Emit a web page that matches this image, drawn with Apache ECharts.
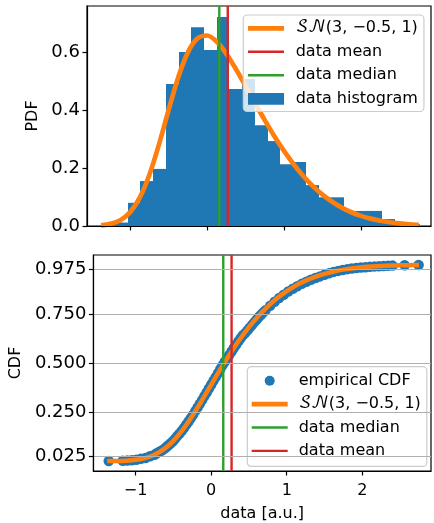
<!DOCTYPE html>
<html><head><meta charset="utf-8">
<script src="https://cdn.jsdelivr.net/npm/echarts@6/dist/echarts.min.js"></script>
<style>html,body{margin:0;padding:0;background:#fff}#c{width:434px;height:523px}</style>
</head><body><div id="c"></div><script>
// ---- data ----
const binEdges = [-1.360, -1.195, -1.030, -0.864, -0.699, -0.534, -0.369, -0.203, -0.038, 0.127, 0.292, 0.457, 0.623, 0.788, 0.953, 1.118, 1.283, 1.449, 1.614, 1.779, 1.944, 2.109, 2.275, 2.440, 2.605, 2.770];
const histDensity = [0.006, 0.012, 0.080, 0.155, 0.197, 0.490, 0.600, 0.686, 0.607, 0.721, 0.473, 0.507, 0.348, 0.293, 0.213, 0.221, 0.141, 0.099, 0.099, 0.052, 0.052, 0.052, 0.024, 0.006, 0.006];

const pdfX = [-1.375, -1.25, -1.125, -1.0, -0.875, -0.75, -0.625, -0.5, -0.375, -0.25, -0.125, 0, 0.125, 0.25, 0.375, 0.5, 0.625, 0.75, 0.875, 1.0, 1.125, 1.25, 1.375, 1.5, 1.625, 1.75, 1.875, 2.0, 2.125, 2.25, 2.375, 2.5, 2.625, 2.75];
const pdfY = [0.0024, 0.0074, 0.0200, 0.0470, 0.0969, 0.1753, 0.2801, 0.3989, 0.5115, 0.5981, 0.6467, 0.6572, 0.6364, 0.5949, 0.5417, 0.4833, 0.4236, 0.3652, 0.3100, 0.2590, 0.2131, 0.1726, 0.1375, 0.1080, 0.0834, 0.0635, 0.0475, 0.0350, 0.0254, 0.0182, 0.0128, 0.0089, 0.0060, 0.0041];

const cdfX = pdfX;
const cdfY = [0.0003, 0.0009, 0.0026, 0.0068, 0.0158, 0.0328, 0.0613, 0.1037, 0.1606, 0.2300, 0.3078, 0.3893, 0.4701, 0.5471, 0.6181, 0.6822, 0.7389, 0.7882, 0.8304, 0.8659, 0.8954, 0.9195, 0.9389, 0.9543, 0.9662, 0.9754, 0.9823, 0.9875, 0.9913, 0.9940, 0.9960, 0.9973, 0.9982, 0.9989];

const ecdfX = [-1.355, -1.17, -1.11, -1.05, -0.99, -0.93, -0.87, -0.81, -0.75, -0.72, -0.69, -0.66, -0.63, -0.60, -0.57, -0.54, -0.51, -0.48, -0.45, -0.42, -0.39, -0.36, -0.33, -0.30, -0.27, -0.24, -0.21, -0.18, -0.15, -0.12, -0.09, -0.06, -0.03, 0.00, 0.03, 0.06, 0.09, 0.12, 0.15, 0.18, 0.21, 0.24, 0.27, 0.30, 0.33, 0.36, 0.39, 0.42, 0.45, 0.48, 0.51, 0.54, 0.57, 0.60, 0.63, 0.66, 0.69, 0.72, 0.78, 0.84, 0.90, 0.96, 1.02, 1.08, 1.14, 1.20, 1.26, 1.32, 1.38, 1.44, 1.50, 1.56, 1.62, 1.68, 1.74, 1.80, 1.86, 1.92, 1.98, 2.04, 2.10, 2.16, 2.22, 2.28, 2.34, 2.40, 2.56, 2.745];
const ecdfY = [0.001, 0.002, 0.003, 0.005, 0.0075, 0.012, 0.0165, 0.025, 0.033, 0.040, 0.047, 0.053, 0.060, 0.070, 0.080, 0.090, 0.100, 0.113, 0.127, 0.140, 0.154, 0.169, 0.186, 0.202, 0.219, 0.236, 0.255, 0.274, 0.292, 0.311, 0.331, 0.350, 0.370, 0.389, 0.409, 0.428, 0.448, 0.468, 0.488, 0.506, 0.524, 0.541, 0.559, 0.576, 0.593, 0.610, 0.626, 0.641, 0.652, 0.666, 0.680, 0.693, 0.707, 0.720, 0.734, 0.746, 0.758, 0.769, 0.791, 0.812, 0.831, 0.848, 0.864, 0.878, 0.891, 0.903, 0.914, 0.924, 0.933, 0.941, 0.949, 0.957, 0.964, 0.969, 0.974, 0.978, 0.981, 0.984, 0.986, 0.988, 0.990, 0.992, 0.993, 0.994, 0.995, 0.996, 0.998, 0.999];

const dataMean = 0.27;
const dataMedian = 0.16;

const xTicks = [-1, 0, 1, 2];
const pdfTicks = [0, 0.2, 0.4, 0.6];
const cdfTicks = [0.025, 0.25, 0.5, 0.75, 0.975];

const snName = '\u{1D4AE}\u{1D4A9}(3, \u22120.5, 1)';

// ---- layout / style ----
const X_MIN = -1.558, X_MAX = 2.909;
const PDF_MAX = 0.759;
const CDF_MIN = -0.05, CDF_MAX = 1.05;
const FONT = '"DejaVu Sans", "DejaVu Math TeX Gyre", sans-serif';
const FS = 16;
const YFS = 18;
const BLUE = '#1f77b4', ORANGE = '#ff7f0e', GREEN = '#2ca02c', RED = '#d62728';
const zip = (a, b) => a.map((v, i) => [v, b[i]]);
const minusFmt = v => (v < 0 ? '\u2212' + Math.abs(v) : String(v));

const axisLineStyle = { show: true, onZero: false, lineStyle: { color: '#000', width: 1.2 } };
const tickStyle = vals => ({ show: true, customValues: vals, length: 4.5, lineStyle: { color: '#000', width: 1.2 } });
const xLabelStyle = { color: '#000', fontSize: FS, fontFamily: FONT, margin: 12 };
const yLabelStyle = { color: '#000', fontSize: YFS, fontFamily: FONT, margin: 7 };
const nameStyle = { color: '#000', fontSize: FS, fontFamily: FONT };

const chart = echarts.init(document.getElementById('c'), null, { renderer: 'canvas' });
chart.setOption({
  animation: false,
  backgroundColor: '#fff',
  grid: [
    { left: 87, width: 344, top: 6, height: 220, show: true, borderColor: '#000', borderWidth: 1.2, backgroundColor: 'transparent' },
    { left: 87, width: 344, top: 255, height: 220, show: true, borderColor: '#000', borderWidth: 1.2, backgroundColor: 'transparent' }
  ],
  xAxis: [
    { gridIndex: 0, type: 'value', min: X_MIN, max: X_MAX, z: 5,
      axisLine: axisLineStyle, axisTick: tickStyle(xTicks),
      axisLabel: Object.assign({ show: false, customValues: xTicks }, xLabelStyle),
      splitLine: { show: false } },
    { gridIndex: 1, type: 'value', min: X_MIN, max: X_MAX, z: 5,
      axisLine: axisLineStyle, axisTick: tickStyle(xTicks),
      axisLabel: Object.assign({ customValues: xTicks, formatter: minusFmt }, xLabelStyle),
      splitLine: { show: false },
      name: 'data [a.u.]', nameLocation: 'middle', nameGap: 35, nameTextStyle: nameStyle }
  ],
  yAxis: [
    { gridIndex: 0, type: 'value', min: 0, max: PDF_MAX, z: 5,
      axisLine: axisLineStyle, axisTick: tickStyle(pdfTicks),
      axisLabel: Object.assign({ customValues: pdfTicks, formatter: v => v.toFixed(1) }, yLabelStyle),
      splitLine: { show: false },
      name: 'PDF', nameLocation: 'middle', nameGap: 42, nameRotate: 90, nameTextStyle: nameStyle },
    { gridIndex: 1, type: 'value', min: CDF_MIN, max: CDF_MAX, z: 5,
      axisLine: axisLineStyle, axisTick: tickStyle(cdfTicks),
      axisLabel: Object.assign({ customValues: cdfTicks, formatter: v => v.toFixed(3) }, yLabelStyle),
      splitLine: { show: true, lineStyle: { color: '#b0b0b0', width: 1.2 } },
      name: 'CDF', nameLocation: 'middle', nameGap: 64, nameRotate: 90, nameTextStyle: nameStyle }
  ],
  legend: [
    { orient: 'vertical', left: 243.3, top: 15, selectedMode: false,
      itemWidth: 36, itemHeight: 11.7, itemGap: 5.5,
      padding: [4.3, 6, 3.7, 4.7],
      backgroundColor: 'rgba(255,255,255,0.8)', borderColor: '#cccccc', borderWidth: 1.2, borderRadius: 4,
      textStyle: { color: '#000', fontSize: FS, fontFamily: FONT, lineHeight: 18, padding: [0, 0, 0, 6.7] },
      data: [
        { name: snName, icon: 'path://M0,0h36v4.7h-36z' },
        { name: 'data mean', icon: 'path://M0,0h36v2.4h-36z' },
        { name: 'data median', icon: 'path://M0,0h36v2.4h-36z' },
        { name: 'data histogram', icon: 'path://M0,0h36v11.7h-36z' }
      ] },
    { orient: 'vertical', left: 247.3, top: 366.7, selectedMode: false,
      itemWidth: 36, itemHeight: 10, itemGap: 5.4,
      padding: [5, 6, 6.5, 4.4],
      backgroundColor: 'rgba(255,255,255,0.8)', borderColor: '#cccccc', borderWidth: 1.2, borderRadius: 4,
      textStyle: { color: '#000', fontSize: FS, fontFamily: FONT, lineHeight: 18, padding: [0, 0, 0, 6] },
      data: [
        { name: 'empirical CDF', icon: 'circle' },
        { name: snName, icon: 'path://M0,0h36v4.7h-36z' },
        { name: 'data median', icon: 'path://M0,0h36v2.4h-36z' },
        { name: 'data mean', icon: 'path://M0,0h36v2.4h-36z' }
      ] }
  ],
  series: [
    { name: 'data histogram', type: 'custom', xAxisIndex: 0, yAxisIndex: 0,
      itemStyle: { color: BLUE },
      encode: { x: [0, 1], y: 2 },
      data: histDensity.map((h, i) => [binEdges[i], binEdges[i + 1], h]),
      renderItem: (params, api) => {
        const p0 = api.coord([api.value(0), api.value(2)]);
        const p1 = api.coord([api.value(1), 0]);
        const x0 = Math.round(p0[0]), x1 = Math.round(p1[0]);
        return { type: 'rect', shape: { x: x0, y: p0[1], width: x1 - x0, height: p1[1] - p0[1] }, style: { fill: BLUE } };
      } },
    { name: snName, type: 'line', xAxisIndex: 0, yAxisIndex: 0, data: zip(pdfX, pdfY),
      symbol: 'none', smooth: 0.3, itemStyle: { color: ORANGE }, lineStyle: { color: ORANGE, width: 4.7 } },
    { name: 'data mean', type: 'line', xAxisIndex: 0, yAxisIndex: 0, data: [[dataMean, 0], [dataMean, PDF_MAX]],
      symbol: 'none', itemStyle: { color: RED }, lineStyle: { color: RED, width: 2.4 } },
    { name: 'data median', type: 'line', xAxisIndex: 0, yAxisIndex: 0, data: [[dataMedian, 0], [dataMedian, PDF_MAX]],
      symbol: 'none', itemStyle: { color: GREEN }, lineStyle: { color: GREEN, width: 2.4 } },

    { name: 'empirical CDF', type: 'scatter', xAxisIndex: 1, yAxisIndex: 1, data: zip(ecdfX, ecdfY),
      symbol: 'circle', symbolSize: 10.5, itemStyle: { color: BLUE, opacity: 1 } },
    { name: snName, type: 'line', xAxisIndex: 1, yAxisIndex: 1, data: zip(cdfX, cdfY),
      symbol: 'none', smooth: 0.3, itemStyle: { color: ORANGE }, lineStyle: { color: ORANGE, width: 4.5 } },
    { name: 'data median', type: 'line', xAxisIndex: 1, yAxisIndex: 1, data: [[dataMedian, CDF_MIN], [dataMedian, CDF_MAX]],
      symbol: 'none', itemStyle: { color: GREEN }, lineStyle: { color: GREEN, width: 2.4 } },
    { name: 'data mean', type: 'line', xAxisIndex: 1, yAxisIndex: 1, data: [[dataMean, CDF_MIN], [dataMean, CDF_MAX]],
      symbol: 'none', itemStyle: { color: RED }, lineStyle: { color: RED, width: 2.4 } }
  ]
});
</script></body></html>
